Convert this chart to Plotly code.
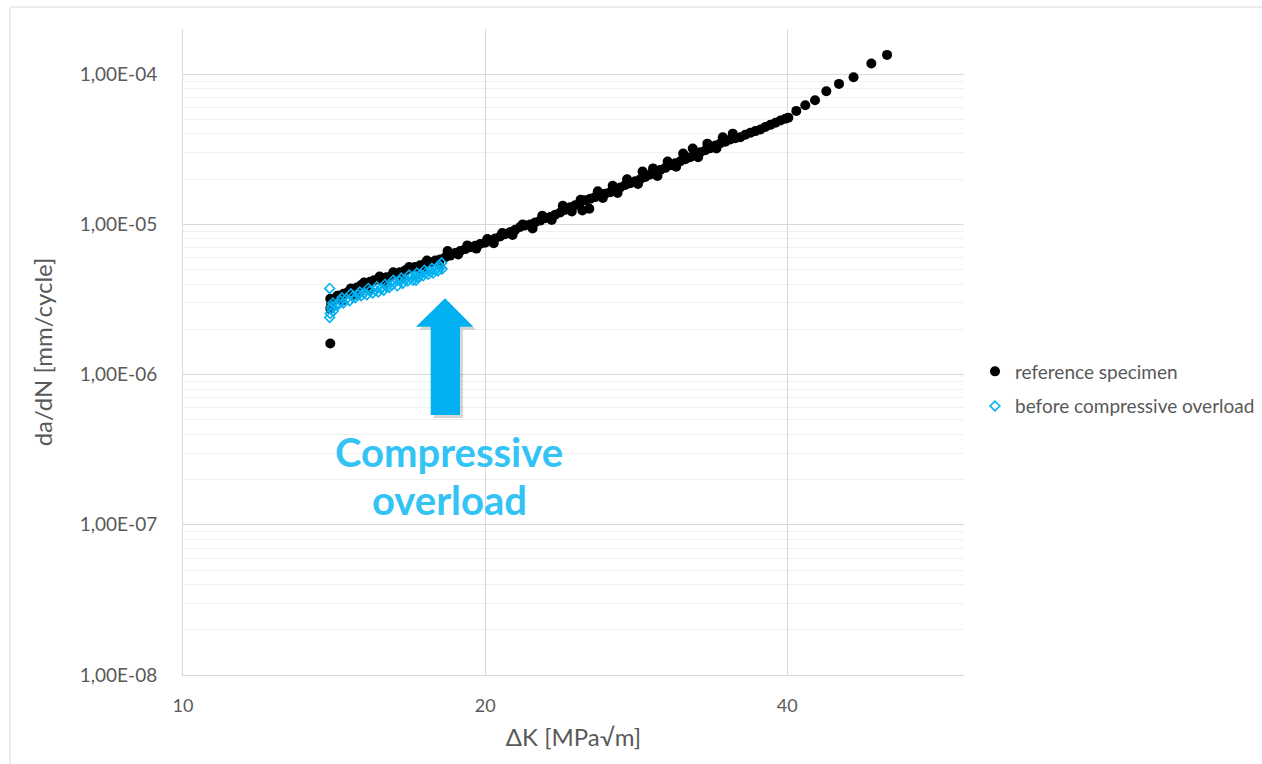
import plotly.graph_objects as go

# ---- data ----
ref_dk = [14.02, 14.02, 14.02, 14.05, 14.18, 14.30, 14.45, 14.60, 14.75, 14.90,
          15.05, 15.20, 15.36, 15.50, 15.65, 15.80, 15.95, 16.10, 16.27, 16.45,
          16.65, 16.84, 17.03, 17.23, 17.43, 17.63, 17.84, 18.04, 18.25, 18.46,
          18.67, 18.89, 19.11, 19.33, 19.55, 19.77, 20.00, 20.23, 20.46, 20.70,
          20.94, 21.18, 21.43, 21.67, 21.92, 22.18, 22.43, 22.69, 22.95, 23.22,
          23.49, 23.76, 24.03, 24.31, 24.59, 24.87, 25.00, 25.16, 25.40, 25.45,
          25.74, 26.04, 26.34, 26.65, 26.95, 27.27, 27.58, 27.90, 28.22, 28.55,
          28.88, 29.21, 29.55, 29.89, 30.24, 30.59, 30.94, 31.30, 31.66, 32.02,
          32.39, 32.77, 33.15, 33.53, 33.92, 34.31, 34.70, 35.10, 35.51, 35.92,
          36.33, 36.75, 37.18, 37.61, 38.04, 38.48, 38.93, 39.38, 39.83, 40.10,
          40.84, 41.69, 42.63, 43.75, 45.04, 46.57, 48.51, 50.29,
          14.40, 14.85, 15.30, 15.90, 16.55, 17.30, 18.00, 18.80, 19.60, 20.40,
          21.30, 22.30, 23.30, 24.40, 26.20, 27.10, 28.40, 29.70, 31.00, 32.60,
          34.00,
          14.25, 14.70, 15.15, 15.70, 16.20, 16.80, 17.50, 18.35, 19.20, 20.10,
          20.80, 21.80, 22.80, 23.90, 24.90, 25.90, 26.80, 27.70, 28.70, 29.40,
          30.40, 31.50, 32.20, 33.30, 34.50, 35.30]
ref_dadn = [1.61e-6, 3.20e-6, 2.75e-6, 2.95e-6, 3.15e-6, 3.35e-6, 3.45e-6, 3.55e-6, 3.70e-6, 3.80e-6,
            3.95e-6, 4.05e-6, 4.15e-6, 4.25e-6, 4.30e-6, 4.40e-6, 4.45e-6, 4.50e-6, 4.70e-6, 4.80e-6,
            4.95e-6, 5.10e-6, 5.20e-6, 5.35e-6, 5.50e-6, 5.60e-6, 5.75e-6, 5.85e-6, 6.05e-6, 6.20e-6,
            6.45e-6, 6.65e-6, 6.85e-6, 7.05e-6, 7.20e-6, 7.40e-6, 7.55e-6, 7.80e-6, 8.05e-6, 8.30e-6,
            8.60e-6, 8.90e-6, 9.20e-6, 9.60e-6, 9.85e-6, 1.00e-5, 1.03e-5, 1.06e-5, 1.10e-5, 1.12e-5,
            1.16e-5, 1.20e-5, 1.25e-5, 1.30e-5, 1.34e-5, 1.40e-5, 1.24e-5, 1.45e-5, 1.27e-5, 1.48e-5,
            1.52e-5, 1.55e-5, 1.60e-5, 1.64e-5, 1.70e-5, 1.76e-5, 1.83e-5, 1.88e-5, 1.94e-5, 2.00e-5,
            2.07e-5, 2.15e-5, 2.22e-5, 2.30e-5, 2.38e-5, 2.48e-5, 2.55e-5, 2.63e-5, 2.72e-5, 2.80e-5,
            2.92e-5, 3.02e-5, 3.12e-5, 3.22e-5, 3.35e-5, 3.47e-5, 3.55e-5, 3.68e-5, 3.75e-5, 3.80e-5,
            3.95e-5, 4.08e-5, 4.18e-5, 4.29e-5, 4.45e-5, 4.60e-5, 4.75e-5, 4.92e-5, 5.05e-5, 5.14e-5,
            5.70e-5, 6.22e-5, 6.71e-5, 7.70e-5, 8.62e-5, 9.55e-5, 1.18e-4, 1.345e-4,
            3.10e-6, 3.40e-6, 3.70e-6, 4.05e-6, 4.45e-6, 4.90e-6, 5.40e-6, 6.30e-6, 6.90e-6, 7.50e-6,
            8.50e-6, 9.40e-6, 1.07e-5, 1.22e-5, 1.50e-5, 1.62e-5, 1.86e-5, 2.10e-5, 2.42e-5, 2.80e-5,
            3.20e-5,
            3.35e-6, 3.75e-6, 4.10e-6, 4.50e-6, 4.80e-6, 5.20e-6, 5.75e-6, 6.65e-6, 7.25e-6, 8.00e-6,
            8.75e-6, 1.00e-5, 1.14e-5, 1.33e-5, 1.46e-5, 1.66e-5, 1.81e-5, 2.00e-5, 2.25e-5, 2.36e-5,
            2.62e-5, 2.96e-5, 3.20e-5, 3.45e-5, 3.80e-5, 4.02e-5]

pre_dk = [14.00, 14.00, 14.02, 14.05, 14.08, 14.12, 14.20, 14.30, 14.35, 14.45,
          14.55, 14.65, 14.75, 14.85, 14.95, 15.05, 15.15, 15.25, 15.35, 15.45,
          15.55, 15.65, 15.75, 15.85, 15.95, 16.05, 16.15, 16.25, 16.35, 16.45,
          16.55, 16.65, 16.75, 16.85, 16.95, 17.05, 17.07, 17.15, 17.25, 17.35,
          17.45, 17.55, 17.65, 17.75, 17.85, 17.95, 18.05, 18.10, 18.12,
          14.10, 14.40, 14.70, 15.00, 15.30, 15.60, 15.90, 16.20, 16.50, 16.80,
          17.10, 17.40, 17.70, 18.00]
pre_dadn = [3.75e-6, 2.40e-6, 2.55e-6, 2.75e-6, 2.85e-6, 2.65e-6, 2.90e-6, 2.95e-6, 3.10e-6, 3.00e-6,
            3.20e-6, 3.10e-6, 3.30e-6, 3.25e-6, 3.40e-6, 3.35e-6, 3.50e-6, 3.40e-6, 3.60e-6, 3.50e-6,
            3.65e-6, 3.55e-6, 3.75e-6, 3.65e-6, 3.85e-6, 3.80e-6, 3.95e-6, 4.10e-6, 3.90e-6, 4.20e-6,
            4.05e-6, 4.30e-6, 4.20e-6, 4.40e-6, 4.25e-6, 4.50e-6, 4.25e-6, 4.45e-6, 4.65e-6, 4.55e-6,
            4.75e-6, 4.65e-6, 4.85e-6, 4.75e-6, 5.00e-6, 4.90e-6, 5.20e-6, 5.55e-6, 5.05e-6,
            3.00e-6, 3.25e-6, 3.45e-6, 3.55e-6, 3.75e-6, 3.85e-6, 4.00e-6, 4.25e-6, 4.40e-6, 4.60e-6,
            4.75e-6, 4.95e-6, 5.10e-6, 5.35e-6]

x_ticks = [10, 20, 40]
y_ticks = [1e-8, 1e-7, 1e-6, 1e-5, 1e-4]
y_ticktext = ["1,00E-08", "1,00E-07", "1,00E-06", "1,00E-05", "1,00E-04"]
y_minor = [m * 10.0 ** e for e in range(-8, -3) for m in range(2, 10)]

FONT = "Lato"
GRAY = "#595959"

fig = go.Figure()
fig.add_trace(go.Scatter(
    x=ref_dk, y=ref_dadn, mode="markers", name="reference specimen", legendgroup="a",
    marker=dict(symbol="circle", size=10, color="#000000", line=dict(width=0)),
))
fig.add_trace(go.Scatter(
    x=pre_dk, y=pre_dadn, mode="markers", name="before compressive overload", legendgroup="b",
    marker=dict(symbol="diamond-open", size=7.5, color="#00B0F0", line=dict(width=1.6, color="#00B0F0")),
))

# plot area in pixels: x 183..964, y 29..675
PL, PR, PT, PB = 183, 964, 29, 675
def px(x):
    return (x - PL) / (PR - PL)
def py(y):
    return (PB - y) / (PB - PT)

shaft_l, shaft_r, base_y, bottom_y = 430.7, 460.0, 326.7, 415.0
head_l, head_r, tip_x, tip_y = 416.0, 473.3, 445.0, 298.3

def arrow_path(dx=0.0, dy=0.0):
    pts = [(shaft_l, bottom_y), (shaft_l, base_y), (head_l, base_y), (tip_x, tip_y),
           (head_r, base_y), (shaft_r, base_y), (shaft_r, bottom_y)]
    return "M " + " L ".join(f"{px(a + dx):.5f},{py(b + dy):.5f}" for a, b in pts) + " Z"

shapes = [
    dict(type="rect", xref="paper", yref="paper", x0=px(10), y0=py(900), x1=px(1400), y1=py(7),
         line=dict(color="#D9D9D9", width=1), fillcolor="rgba(0,0,0,0)", layer="below"),
    dict(type="path", xref="paper", yref="paper", path=arrow_path(3, 3),
         fillcolor="rgba(0,0,0,0.16)", line=dict(width=0)),
    dict(type="path", xref="paper", yref="paper", path=arrow_path(),
         fillcolor="#00B0F0", line=dict(width=0)),
]

label_font = dict(family=FONT, size=40, color="#33C3F5", weight="bold")
fig.update_layout(
    width=1262, height=764,
    margin=dict(l=PL, r=1262 - PR, t=PT, b=764 - PB, autoexpand=False),
    paper_bgcolor="white", plot_bgcolor="white",
    font=dict(family=FONT, color=GRAY),
    shapes=shapes,
    showlegend=True,
    legend=dict(x=px(975), y=py(389), xanchor="left", yanchor="middle",
                font=dict(size=19, color=GRAY, family=FONT), itemwidth=30,
                bgcolor="rgba(0,0,0,0)", tracegroupgap=7),
    annotations=[
        dict(text="Compressive", xref="paper", yref="paper", x=px(449), y=py(452),
             xanchor="center", yanchor="middle", showarrow=False, font=label_font),
        dict(text="overload", xref="paper", yref="paper", x=px(449), y=py(500),
             xanchor="center", yanchor="middle", showarrow=False, font=label_font),
    ],
)

fig.update_xaxes(
    type="log", range=[1, 1.77815], tickvals=x_ticks, ticktext=[str(v) for v in x_ticks],
    showgrid=True, gridcolor="#D9D9D9", gridwidth=1,
    showline=True, linecolor="#D9D9D9", linewidth=1, zeroline=False,
    ticks="", tickfont=dict(size=18, color=GRAY, family=FONT), ticklabelstandoff=14,
    title=dict(text="ΔK [MPa√m]", font=dict(size=24, color=GRAY, family=FONT), standoff=14),
)
fig.update_yaxes(
    type="log", range=[-8, -3.69897], tickvals=y_ticks, ticktext=y_ticktext,
    showgrid=True, gridcolor="#D9D9D9", gridwidth=1,
    minor=dict(tickvals=y_minor, showgrid=True, gridcolor="#F0F0F0", gridwidth=1, ticks=""),
    showline=True, linecolor="#D9D9D9", linewidth=1, zeroline=False,
    ticks="", tickfont=dict(size=19, color=GRAY, family=FONT), ticklabelstandoff=21,
    title=dict(text="da/dN [mm/cycle]", font=dict(size=24, color=GRAY, family=FONT), standoff=20),
)

fig.write_html("out.html")
